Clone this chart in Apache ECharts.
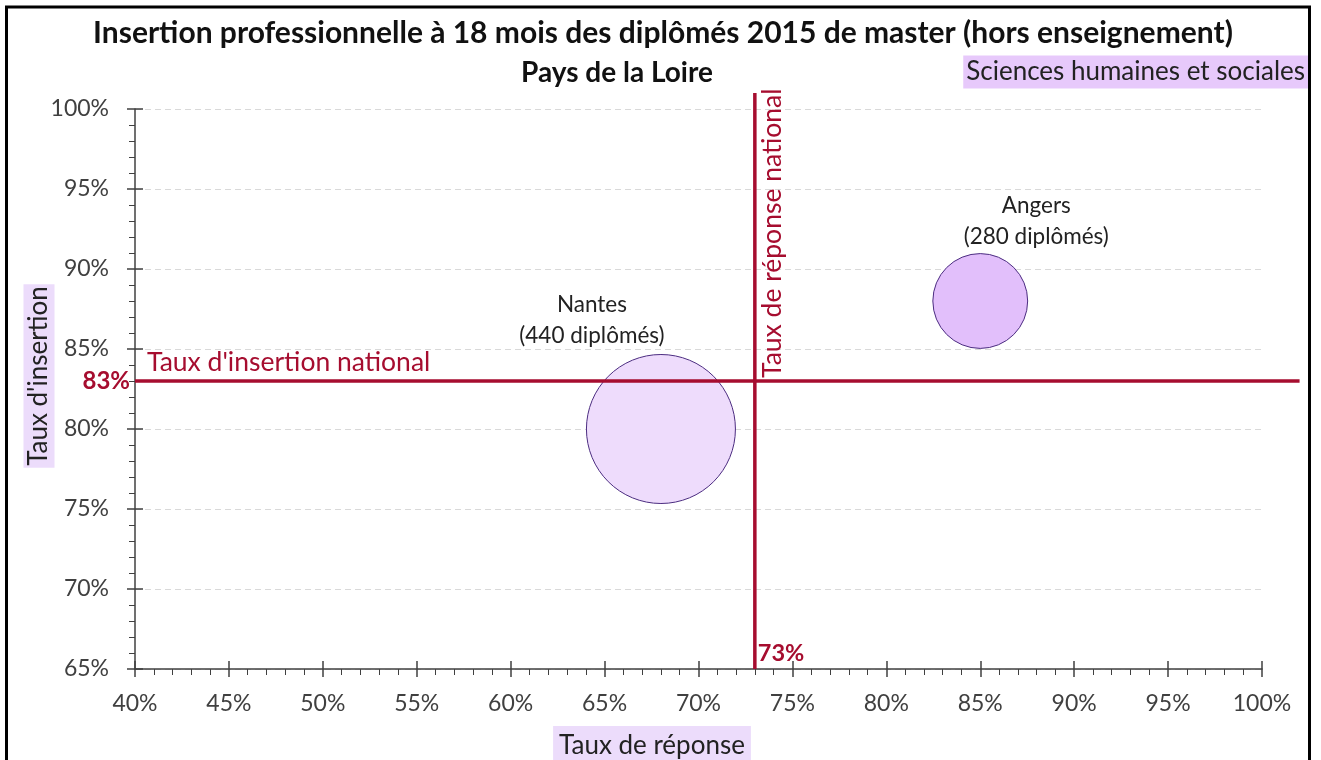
<!DOCTYPE html>
<html>
<head>
<meta charset="utf-8">
<script src="https://cdn.jsdelivr.net/npm/echarts@6/dist/echarts.min.js"></script>
<style>
  html, body { margin: 0; padding: 0; background: #fff; }
  #chart { width: 1321px; height: 760px; }
</style>
</head>
<body>
<div id="chart"></div>
<script>
// données
var schools = ['Nantes', 'Angers'];
var responseRate = [68, 85];      // taux de réponse (%)
var insertionRate = [80, 88];     // taux d'insertion (%)
var graduates = [440, 280];       // nombre de diplômés
var bubbleFill = ['#eedcfc', '#e2bffb'];
var nationalInsertion = 83;
var nationalResponse = 73;
var xRange = [40, 100];
var yRange = [65, 100];

var crimson = '#a60d2f';
var font = 'Lato';

var myChart = echarts.init(document.getElementById('chart'));

function pct(v) { return v + '%'; }

var bubbles = schools.map(function (name, i) {
    return {
        name: name,
        value: [responseRate[i], insertionRate[i], graduates[i]],
        itemStyle: { color: bubbleFill[i] },
        label: {
            offset: i === 0 ? [-69, 0] : [56, 0],
            distance: i === 0 ? 3 : 1
        }
    };
});

// lignes nationales : [x1, y1, x2, y2]
var nationalLines = [
    [xRange[0], nationalInsertion, 102, nationalInsertion],
    [nationalResponse, yRange[0], nationalResponse, 101]
];

var option = {
    animation: false,
    textStyle: { fontFamily: font },
    title: [{
        text: 'Insertion professionnelle à 18 mois des diplômés 2015 de master (hors enseignement)',
        left: 658, top: 13, textAlign: 'center',
        textStyle: { fontFamily: font, fontSize: 30, fontWeight: 'bold', color: '#111' }
    }, {
        text: 'Pays de la Loire',
        left: 612, top: 54, textAlign: 'center',
        textStyle: { fontFamily: font, fontSize: 28, fontWeight: 'bold', color: '#111' }
    }],
    grid: { left: 135, right: 59, top: 109, bottom: 91 },
    xAxis: [{
        type: 'value', min: xRange[0], max: xRange[1], interval: 5,
        axisLine: { lineStyle: { color: '#404040', width: 1.5 } },
        axisTick: { inside: false, length: 8, lineStyle: { color: '#404040', width: 1.5 } },
        minorTick: { show: true, splitNumber: 5, length: 6, lineStyle: { color: '#404040' } },
        axisLabel: { formatter: '{value}%', fontSize: 23, color: '#404040', margin: 23, fontFamily: font },
        splitLine: { show: false }
    }, {
        // ticks vers l'intérieur (croix)
        type: 'value', min: xRange[0], max: xRange[1], interval: 5, position: 'bottom',
        axisLine: { show: false },
        axisTick: { inside: true, length: 8, lineStyle: { color: '#404040', width: 1.5 } },
        axisLabel: { show: false }, splitLine: { show: false }
    }],
    yAxis: [{
        type: 'value', min: yRange[0], max: yRange[1], interval: 5,
        axisLine: { show: true, lineStyle: { color: '#404040', width: 1.5 } },
        axisTick: { show: true, inside: false, length: 8, lineStyle: { color: '#404040', width: 1.5 } },
        minorTick: { show: true, splitNumber: 5, length: 6, lineStyle: { color: '#404040' } },
        axisLabel: { formatter: '{value}%', fontSize: 23, color: '#404040', margin: 26, fontFamily: font },
        splitLine: { show: true, lineStyle: { color: '#d9d9d9', type: [6, 4] } }
    }, {
        type: 'value', min: yRange[0], max: yRange[1], interval: 5, position: 'left',
        axisLine: { show: false },
        axisTick: { show: true, inside: true, length: 8, lineStyle: { color: '#404040', width: 1.5 } },
        axisLabel: { show: false }, splitLine: { show: false }
    }],
    series: [{
        type: 'scatter',
        data: bubbles,
        symbolSize: function (val) { return val[2] * 149 / 440; },
        itemStyle: { borderColor: '#4b2c80', borderWidth: 1, opacity: 1 },
        label: {
            show: true, position: 'top',
            fontFamily: font, fontSize: 22.5, lineHeight: 31, color: '#222', align: 'center',
            formatter: function (p) { return p.name + '\n(' + p.value[2] + ' diplômés)'; }
        },
        z: 2
    }, {
        type: 'custom',
        clip: false,
        data: nationalLines,
        encode: { x: [0, 2], y: [1, 3] },
        renderItem: function (params, api) {
            var a = api.coord([api.value(0), api.value(1)]);
            var b = api.coord([api.value(2), api.value(3)]);
            return {
                type: 'line',
                shape: { x1: a[0], y1: a[1], x2: b[0], y2: b[1] },
                style: { stroke: crimson, lineWidth: 3.5 }
            };
        },
        z: 5
    }]
};

myChart.setOption(option);

var origin = myChart.convertToPixel({ gridIndex: 0 }, [xRange[0], yRange[0]]);
var nat = myChart.convertToPixel({ gridIndex: 0 }, [nationalResponse, nationalInsertion]);

myChart.setOption({
    graphic: [{
        type: 'rect', shape: { x: 6.5, y: 7, width: 1303, height: 800 },
        style: { fill: 'none', stroke: '#000', lineWidth: 3 }, silent: true
    }, {
        type: 'text', x: 1308, y: 72,
        style: {
            text: 'Sciences humaines et sociales', fontFamily: font, fontSize: 26, fill: '#222',
            align: 'right', verticalAlign: 'middle',
            backgroundColor: '#e7c9fb', padding: [4, 3, 3, 3]
        }
    }, {
        type: 'text', x: 39, y: 376, rotation: Math.PI / 2,
        style: {
            text: "Taux d'insertion", fontFamily: font, fontSize: 26, fill: '#222',
            align: 'center', verticalAlign: 'middle',
            backgroundColor: '#ecdcfb', padding: [3, 2, 2, 2]
        }
    }, {
        type: 'text', x: 652, y: 746,
        style: {
            text: 'Taux de réponse', fontFamily: font, fontSize: 26, fill: '#222',
            align: 'center', verticalAlign: 'middle',
            backgroundColor: '#ecdcfb', padding: [6, 6, 8, 6]
        }
    }, {
        type: 'text', x: origin[0] - 5, y: nat[1],
        style: {
            text: pct(nationalInsertion), fontFamily: font, fontSize: 24, fontWeight: 'bold',
            fill: crimson, align: 'right', verticalAlign: 'middle'
        }
    }, {
        type: 'text', x: origin[0] + 12, y: nat[1] - 19,
        style: {
            text: "Taux d'insertion national", fontFamily: font, fontSize: 26.5,
            fill: crimson, align: 'left', verticalAlign: 'middle'
        }
    }, {
        type: 'text', x: nat[0] + 3, y: origin[1] - 16,
        style: {
            text: pct(nationalResponse), fontFamily: font, fontSize: 23.5, fontWeight: 'bold',
            fill: crimson, align: 'left', verticalAlign: 'middle'
        }
    }, {
        type: 'text', x: nat[0] + 18, y: nat[1] - 3, rotation: Math.PI / 2,
        style: {
            text: 'Taux de réponse national', fontFamily: font, fontSize: 26.5,
            fill: crimson, align: 'left', verticalAlign: 'middle'
        }
    }]
});
</script>
</body>
</html>
